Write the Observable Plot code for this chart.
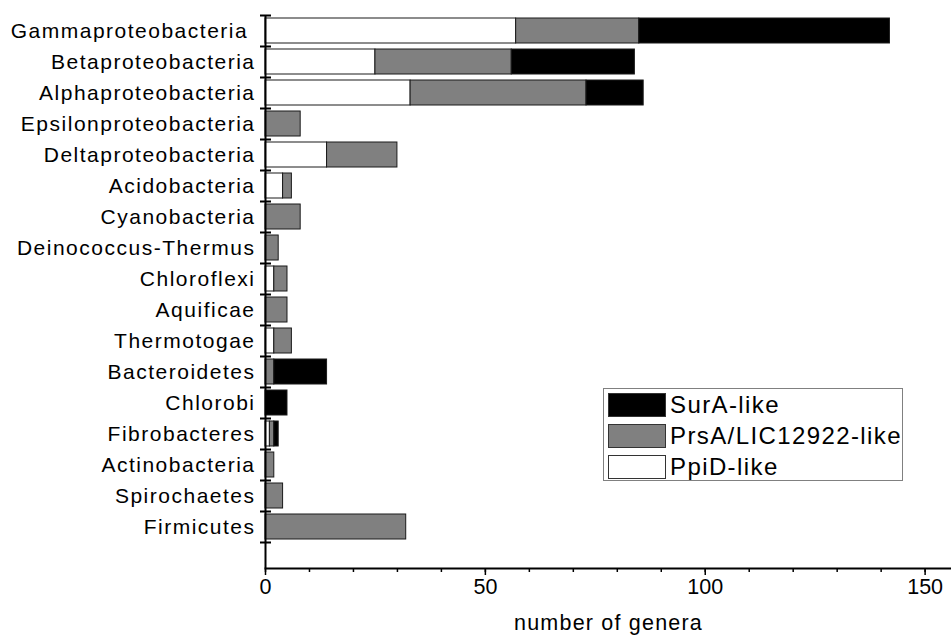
<!DOCTYPE html>
<html>
<head>
<meta charset="utf-8">
<script src="https://cdn.jsdelivr.net/npm/d3@7"></script>
<script src="https://cdn.jsdelivr.net/npm/@observablehq/plot@0.6"></script>
<style>
  html, body { margin: 0; padding: 0; background: #fff; }
  #chart { position: relative; width: 951px; height: 637px; font-family: "Liberation Sans", Arial, sans-serif; }
  #chart svg { display: block; }
  #chart g[aria-label="y-axis tick label"] text { letter-spacing: 1.5px; }
  #chart .xtitle text { letter-spacing: 1.2px; }
  .legend { position: absolute; left: 603px; top: 388px; width: 298px; height: 91px;
            border: 1px solid #808080; background: #fff; box-sizing: content-box; }
  .legend .row { position: absolute; left: 4px; height: 24px; display: flex; align-items: center; }
  .legend .sw { width: 56px; height: 22px; border: 1px solid #333; box-sizing: content-box; }
  .legend .lab { margin-left: 4px; font-size: 24px; letter-spacing: 1.4px; color: #000; white-space: nowrap; }
</style>
</head>
<body>
<div id="chart"></div>
<script>
// Bacterial classes, top to bottom
const categories = [
  "Gammaproteobacteria\u00a0", "Betaproteobacteria", "Alphaproteobacteria",
  "Epsilonproteobacteria", "Deltaproteobacteria", "Acidobacteria",
  "Cyanobacteria", "Deinococcus-Thermus", "Chloroflexi", "Aquificae",
  "Thermotogae", "Bacteroidetes", "Chlorobi", "Fibrobacteres",
  "Actinobacteria", "Spirochaetes", "Firmicutes"
];

// Number of genera per class for each parvulin family
const ppid = [57, 25, 33, 0, 14, 4, 0, 0, 2, 0, 2, 0, 0, 1, 0, 0, 0];
const prsa = [28, 31, 40, 8, 16, 2, 8, 3, 3, 5, 4, 2, 0, 1, 2, 4, 32];
const sura = [57, 28, 13, 0, 0, 0, 0, 0, 0, 0, 0, 12, 5, 1, 0, 0, 0];

const seriesNames = ["PpiD-like", "PrsA/LIC12922-like", "SurA-like"];
const seriesColors = ["#ffffff", "#808080", "#000000"];
const legendOrder = ["SurA-like", "PrsA/LIC12922-like", "PpiD-like"];

const xTicksMajor = [0, 50, 100, 150];
const xTicksMinor = d3.range(0, 160, 10);
const xLabel = "number of genera";

// Long-format table for the stacked bars
const values = [ppid, prsa, sura];
const rows = [];
categories.forEach((c, i) => {
  seriesNames.forEach((s, k) => {
    rows.push({category: c, family: s, count: values[k][i]});
  });
});

const font = "'Liberation Sans', Arial, sans-serif";

const chart = Plot.plot({
  width: 951,
  height: 637,
  marginLeft: 265,
  marginRight: 0,
  marginTop: 15,
  marginBottom: 69,
  style: {fontFamily: font, fontSize: "21px", color: "#000", background: "#fff", overflow: "visible"},
  x: {domain: [0, 156]},
  y: {type: "band", domain: categories, range: [15, 542], padding: 0},
  color: {type: "ordinal", domain: seriesNames, range: seriesColors},
  marks: [
    // stacked bars
    Plot.barX(rows, {
      y: "category", x: "count", fill: "family",
      order: seriesNames, stroke: "#1a1a1a", strokeWidth: 1,
      insetTop: 3, insetBottom: 3, filter: d => d.count > 0
    }),
    // y axis line and x axis line
    Plot.ruleX([0], {stroke: "#000", strokeWidth: 2}),
    Plot.frame({anchor: "bottom", stroke: "#000", strokeWidth: 2}),
    // category boundary ticks on the y axis
    Plot.ruleY(categories, {y: d => d, x1: 0, x2: 0, dy: -15.5, insetLeft: -5, insetRight: -6, stroke: "#000", strokeWidth: 2}),
    Plot.ruleY(categories.slice(-1), {y: d => d, x1: 0, x2: 0, dy: 15.5, insetLeft: -5, insetRight: -6, stroke: "#000", strokeWidth: 2}),
    // category labels
    Plot.axisY({tickSize: 0, tickPadding: 10, fontSize: 21, label: null}),
    // x axis: minor and major ticks
    Plot.axisX({ticks: xTicksMinor, tickSize: 4, tickFormat: () => "", label: null, strokeWidth: 1.5}),
    Plot.axisX({ticks: xTicksMajor, tickSize: 7, tickPadding: 3, fontSize: 21.5, label: null, strokeWidth: 1.5}),
    // x axis title
    Plot.text([xLabel], {frameAnchor: "bottom", dy: 55, fontSize: 21.5, lineAnchor: "middle",
                         fill: "#000", text: d => d, className: "xtitle"})
  ]
});

const root = document.getElementById("chart");
root.appendChild(chart);

// Legend box inside the plot area
const color = chart.scale("color");
const legend = document.createElement("div");
legend.className = "legend";
legendOrder.forEach((name, i) => {
  const row = document.createElement("div");
  row.className = "row";
  row.style.top = (4 + i * 31) + "px";
  const sw = document.createElement("div");
  sw.className = "sw";
  sw.style.background = color.range[color.domain.indexOf(name)];
  const lab = document.createElement("span");
  lab.className = "lab";
  lab.textContent = name;
  row.appendChild(sw);
  row.appendChild(lab);
  legend.appendChild(row);
});
root.appendChild(legend);
</script>
</body>
</html>
